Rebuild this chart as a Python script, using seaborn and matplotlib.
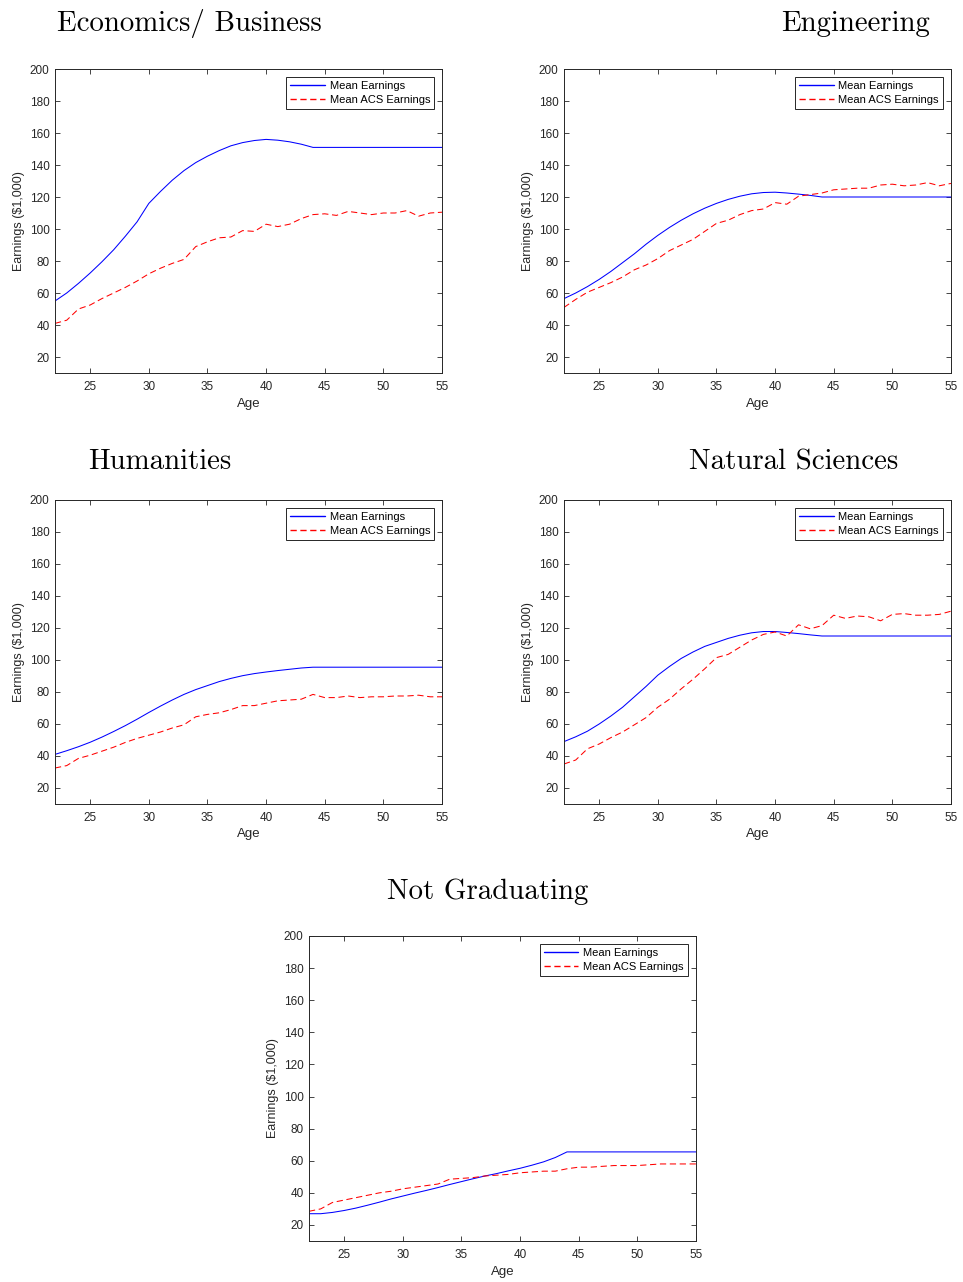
import numpy as np
import pandas as pd
import matplotlib
matplotlib.use("Agg")
import matplotlib.pyplot as plt
from matplotlib.lines import Line2D
import seaborn as sns

# Ages covered by the earnings profiles
ages = list(range(22, 56))

# Economics / Business
econ_mean = [55, 60, 66, 72.5, 79.5, 87, 95.5, 104.5, 116, 123.5, 130.5, 136.5, 141.5,
             145.5, 149, 152, 154, 155.3, 156, 155.5, 154.5, 153, 151,
             151, 151, 151, 151, 151, 151, 151, 151, 151, 151, 151]
econ_acs = [41, 43, 50, 52.5, 56.5, 60, 63.5, 67.5, 72, 75.5, 78.5, 81, 89, 92, 94.5,
            95, 99, 98.5, 103, 101.5, 103, 106.5, 109, 109.5, 108.5, 111, 110, 109,
            110, 110, 111.5, 108, 110, 110.5]

# Engineering
eng_mean = [56.5, 60, 64, 68.5, 73.5, 79, 84.5, 90.5, 96, 101, 105.5, 109.5, 113, 116,
            118.5, 120.5, 122, 122.8, 123, 122.5, 121.8, 121, 120,
            120, 120, 120, 120, 120, 120, 120, 120, 120, 120, 120]
eng_acs = [51, 56, 60.5, 63.5, 66.5, 70, 74.5, 77.5, 81.5, 86.5, 90, 93.5, 98.5, 103.5,
           105.5, 109, 111.5, 112.5, 116.5, 115.5, 120.5, 121.5, 122.5, 124.5, 125,
           125.5, 125.5, 127.5, 128, 127, 127.5, 129, 127, 128.5]

# Humanities
hum_mean = [41, 43.3, 45.8, 48.6, 51.8, 55.3, 59, 63, 67.2, 71.2, 75, 78.5, 81.5, 84,
            86.5, 88.5, 90.2, 91.5, 92.5, 93.4, 94.2, 95, 95.5,
            95.5, 95.5, 95.5, 95.5, 95.5, 95.5, 95.5, 95.5, 95.5, 95.5, 95.5]
hum_acs = [32.5, 34, 38.5, 40.5, 43, 45.5, 48.5, 51, 53, 55, 57.5, 59.5, 64.5, 66, 67,
           69, 71.5, 71.5, 73, 74.5, 75, 75.5, 78.5, 76.5, 76.5, 77.5, 76.5, 77, 77,
           77.5, 77.5, 78, 77, 77]

# Natural Sciences
nat_mean = [49, 52, 55.5, 60, 65, 70.5, 77, 83.5, 90.5, 96, 101, 105, 108.5, 111,
            113.5, 115.5, 117, 117.8, 117.8, 117.2, 116.5, 115.7, 115,
            115, 115, 115, 115, 115, 115, 115, 115, 115, 115, 115]
nat_acs = [35, 37.5, 44.5, 47.5, 51.5, 55, 59.5, 64, 70.5, 75.5, 82, 88, 94.5, 101.5,
           103.5, 108, 112.5, 116, 117.5, 115, 122, 119.5, 121.5, 128, 126, 127.5,
           127, 124.5, 128.5, 129, 128, 128, 128.5, 130.5]

# Not Graduating
ng_mean = [27, 27, 27.8, 29, 30.5, 32.3, 34.2, 36.2, 38, 39.8, 41.5, 43.3, 45.2, 47,
           48.8, 50.5, 52, 53.7, 55.3, 57.2, 59.3, 62, 65.5,
           65.5, 65.5, 65.5, 65.5, 65.5, 65.5, 65.5, 65.5, 65.5, 65.5, 65.5]
ng_acs = [28.5, 30, 34, 35.5, 37, 38.5, 40, 41, 42.5, 43.5, 44.5, 45.5, 48.5, 49,
          49.5, 50.5, 51, 51.5, 52.5, 53, 53.5, 53.5, 55, 56, 56, 56.5, 57, 57, 57,
          57.5, 58, 58, 58, 58]

titles = ["Economics/ Business", "Engineering", "Humanities", "Natural Sciences",
          "Not Graduating"]
series_mean = [econ_mean, eng_mean, hum_mean, nat_mean, ng_mean]
series_acs = [econ_acs, eng_acs, hum_acs, nat_acs, ng_acs]
legend_labels = ["Mean Earnings", "Mean ACS Earnings"]

x_ticks = [25, 30, 35, 40, 45, 50, 55]
y_ticks = [20, 40, 60, 80, 100, 120, 140, 160, 180, 200]

sns.set_theme(style="white")
plt.rcParams["font.family"] = ["Liberation Sans", "DejaVu Sans"]

W, H = 963, 1282
fig = plt.figure(figsize=(W / 100, H / 100), dpi=100)

# panel boxes in pixels: left, top, right, bottom
boxes = [(55, 69, 442, 373), (564, 69, 951, 373),
         (55, 500, 442, 804), (564, 500, 951, 804),
         (309, 936, 696, 1241)]
# title placement in pixels: x, baseline y, horizontal alignment
title_pos = [(57, 31, "left"), (930, 31, "right"),
             (88, 469, "left"), (898, 469, "right"),
             (488, 899, "center")]

edge = "#262626"
blue = "#0000ff"
red = "#ff0000"
dash = (0, (6, 3.5))
lw = 0.75

for i, (l, t, r, b) in enumerate(boxes):
    ax = fig.add_axes([l / W, 1 - b / H, (r - l) / W, (b - t) / H])
    df = pd.DataFrame({"Age": ages, "mean": series_mean[i], "acs": series_acs[i]})
    sns.lineplot(data=df, x="Age", y="mean", ax=ax, color=blue, lw=lw, legend=False)
    sns.lineplot(data=df, x="Age", y="acs", ax=ax, color=red, lw=lw,
                 linestyle=dash, legend=False)
    ax.set_xlim(22, 55)
    ax.set_ylim(10, 200)
    ax.set_xticks(x_ticks)
    ax.set_yticks(y_ticks)
    ax.set_xlabel("Age", fontsize=9.5, color=edge, labelpad=3)
    ax.set_ylabel("Earnings ($1,000)", fontsize=9, color=edge, labelpad=3)
    ax.tick_params(direction="in", length=3.5, width=0.6, colors=edge,
                   labelsize=8.5, top=True, right=True, bottom=True, left=True)
    ax.tick_params(axis="x", pad=6)
    ax.tick_params(axis="y", pad=4)
    for sp in ax.spines.values():
        sp.set_color(edge)
        sp.set_linewidth(0.7)
    handles = [Line2D([], [], color=blue, lw=1.0),
               Line2D([], [], color=red, lw=1.0, linestyle=(0, (4.5, 2.6)))]
    leg = ax.legend(handles, legend_labels, loc="upper right", fontsize=8,
                    frameon=True, fancybox=False, edgecolor=edge, framealpha=1,
                    borderaxespad=0.7, handlelength=3.1, handletextpad=0.45,
                    borderpad=0.38, labelspacing=0.32)
    leg.get_frame().set_linewidth(0.7)
    for txt in leg.get_texts():
        txt.set_color("black")
    tx, ty, ha = title_pos[i]
    fig.text(tx / W, 1 - ty / H, titles[i], fontfamily="cmr10", fontsize=20.8,
             ha=ha, va="baseline", color="black")

fig.savefig("out.png", dpi=100, facecolor="white")
